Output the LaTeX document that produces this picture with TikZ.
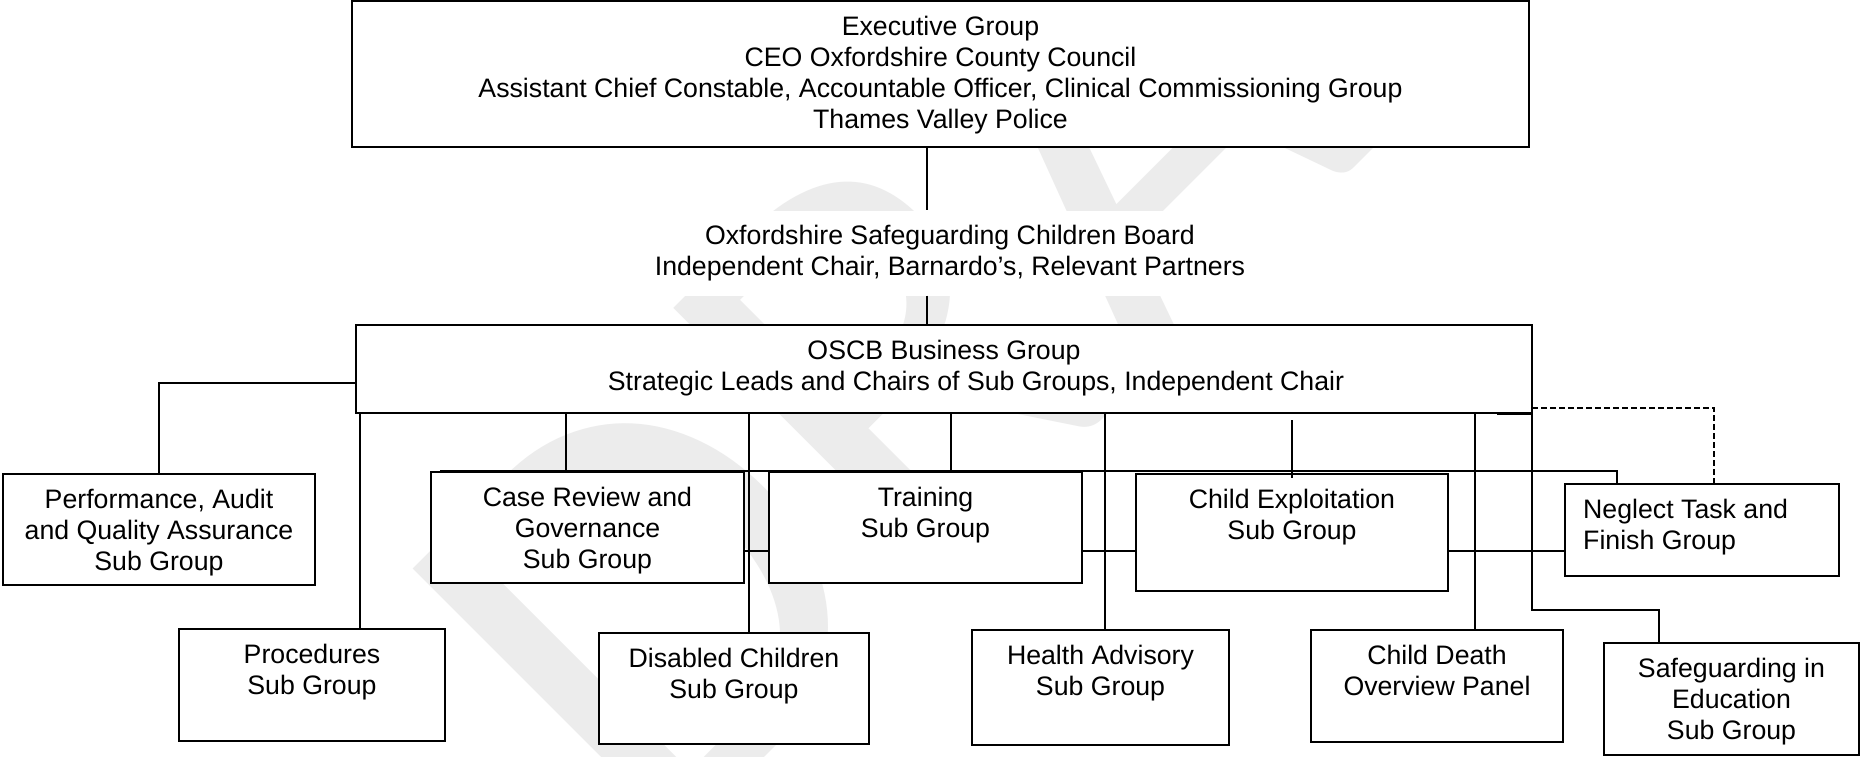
\documentclass[tikz,border=0pt]{standalone}
\usepackage{fontspec}
\setmainfont{Liberation Sans}
\newfontfamily\markfont{Carlito}
\usetikzlibrary{positioning}

\begin{document}
\begin{tikzpicture}[
  x=1pt, y=-1pt,
  node distance=15pt,
  every node/.style={font=\fontsize{26.7pt}{31pt}\selectfont},
  grp/.style={draw, fill=white, line width=1.5pt, anchor=north west,
              inner sep=0pt, outer sep=0pt},
  lbl/.style={inner sep=0pt, align=center},
  link/.style={draw, line width=1.3pt},
  loose/.style={link, line width=1.8pt, dash pattern=on 6pt off 3pt},
  wmark/.style={font=\markfont\fontsize{595pt}{595pt}\selectfont, text=gray!15,
                rotate=45, inner sep=0pt}
]
\path[use as bounding box, fill=white] (0,0) rectangle (1861,756);

% watermark, behind everything else
\node[wmark] (draft) at (1084,168) {DRAFT};

% board level
\node[grp, minimum width=1177pt, minimum height=146pt] (exe) at (352,1) {};
\node[lbl, below=of exe.north] (exe-t) {Executive Group\\CEO Oxfordshire County Council\\
  Assistant Chief Constable, Accountable Officer, Clinical Commissioning Group\\Thames Valley Police};
\node[lbl, fill=white, minimum width=880pt, minimum height=85pt] (brd) at (950,253)
  {Oxfordshire Safeguarding Children Board\\Independent Chair, Barnardo’s, Relevant Partners};
\node[grp, minimum width=1176pt, minimum height=88pt] (osb) at (356,325) {};
\node[lbl, below=of osb.north] (osb-t) {OSCB Business Group\\
  \hspace*{64pt}Strategic Leads and Chairs of Sub Groups, Independent Chair};

% first row of sub groups
\node[grp, minimum width=312pt, minimum height=111pt] (paq) at (3,474) {};
\node[lbl, below=of paq.north] (paq-t) {Performance, Audit\\and Quality Assurance\\Sub Group};
\node[grp, minimum width=313pt, minimum height=111pt] (crg) at (431,472) {};
\node[lbl, below=of crg.north] (crg-t) {Case Review and\\Governance\\Sub Group};
\node[grp, minimum width=313pt, minimum height=111pt, right=25pt of crg] (trn) {};
\node[lbl, below=of trn.north] (trn-t) {Training\\Sub Group};
\node[grp, minimum width=312pt, minimum height=117pt] (cex) at (1136,474) {};
\node[lbl, below=of cex.north] (cex-t) {Child Exploitation\\Sub Group};
\node[grp, minimum width=274pt, minimum height=92pt] (ntf) at (1565,484) {};
\node[lbl, align=left, anchor=north west] (ntf-t) at ([xshift=18pt,yshift=-15pt]ntf.north west)
  {Neglect Task and\\Finish Group};

% second row
\node[grp, minimum width=266pt, minimum height=112pt] (prc) at (179,629) {};
\node[lbl, below=of prc.north] (prc-t) {Procedures\\Sub Group};
\node[grp, minimum width=270pt, minimum height=111pt] (dis) at (599,633) {};
\node[lbl, below=of dis.north] (dis-t) {Disabled Children\\Sub Group};
\node[grp, minimum width=257pt, minimum height=115pt] (hlt) at (972,630) {};
\node[lbl, below=of hlt.north] (hlt-t) {Health Advisory\\Sub Group};
\node[grp, minimum width=252pt, minimum height=112pt] (cdp) at (1311,630) {};
\node[lbl, below=of cdp.north] (cdp-t) {Child Death\\Overview Panel};
\node[grp, minimum width=255pt, minimum height=112pt] (sie) at (1604,643) {};
\node[lbl, below=of sie.north] (sie-t) {Safeguarding in\\Education\\Sub Group};

% links
\draw[link] (exe.south -| 927,0) -- (brd.north -| 927,0);
\draw[link] (brd.south -| 927,0) -- (osb.north -| 927,0);
\draw[link] (osb.west |- 0,383) -| (paq.north);
\draw[link] (osb.south -| 360,0) -- (prc.north -| 360,0);
\draw[link] (osb.south -| 566,0) -- (crg.north -| 566,0);
\draw[link] (osb.south -| 749,0) -- (dis.north -| 749,0);
\draw[link] (osb.south -| 951,0) -- (trn.north -| 951,0);
\draw[link] (osb.south -| 1105,0) -- (hlt.north -| 1105,0);
\draw[link] ([yshift=-7pt]osb.south -| cex.north) -- ([yshift=-4pt]cex.north);
\draw[link] (osb.south -| 1475,0) -- (cdp.north -| 1475,0);
\draw[link] ([xshift=9pt,yshift=1pt]crg.north west) -| (ntf.north -| 1617,0);
\draw[link] (crg.east |- 0,551) -- (trn.west |- 0,551);
\draw[link] (trn.east |- 0,551) -- (cex.west |- 0,551);
\draw[link] (cex.east |- 0,551) -- (ntf.west |- 0,551);
\draw[link] ([xshift=-35pt,yshift=-1.5pt]osb.south east) -- ([yshift=-1.5pt]osb.south east)
  -- ++(0,195.5) -| (sie.north -| 1659,0);
\draw[loose] ([yshift=5pt]osb.south east) -| (ntf.north -| 1714,0) -- (ntf.north -| 1759,0);
\end{tikzpicture}
\end{document}
